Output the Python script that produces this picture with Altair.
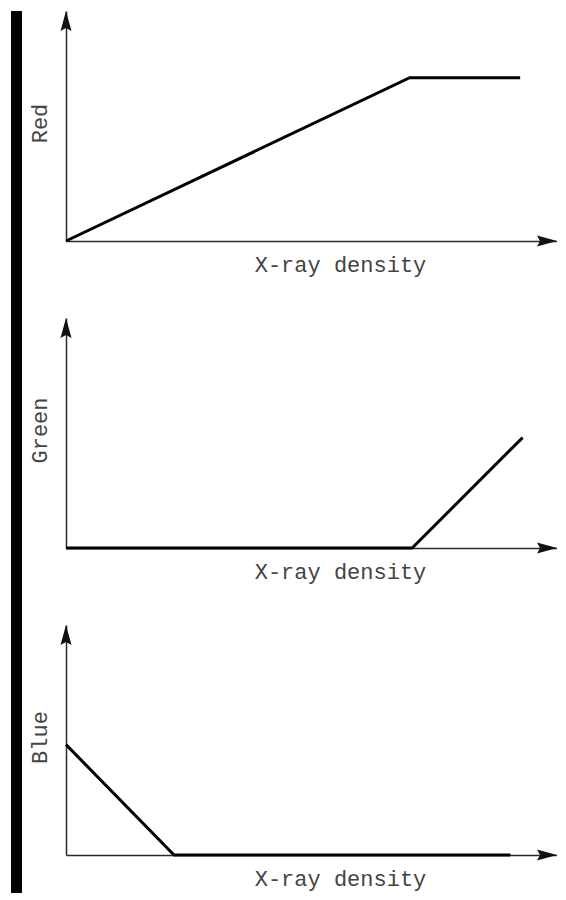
import altair as alt
import pandas as pd

# ---- data ----
x_max = 100
y_max = 100

channels = ["Red", "Green", "Blue"]
x_title = "X-ray density"

red_x = [0, 70, 92.5]
red_y = [0, 71, 71]

green_x = [0, 70.5, 93]
green_y = [0, 0, 48]

blue_x = [0, 22, 90.5]
blue_y = [48, 0, 0]

series = {"Red": (red_x, red_y), "Green": (green_x, green_y), "Blue": (blue_x, blue_y)}

FONT = "Liberation Mono"
W, H = 491, 230
AXIS_COLOR = "#2a2a2a"
TEXT_COLOR = "#444444"

up_arrow = "M0,0 L0.55,2 L0,1.7 L-0.55,2 Z"
right_arrow = "M0,0 L-2,-0.55 L-1.7,0 L-2,0.55 Z"


def panel(name):
    xs, ys = series[name]
    df = pd.DataFrame({"x": xs, "y": ys})
    xscale = alt.Scale(domain=[0, x_max], nice=False, zero=True)
    yscale = alt.Scale(domain=[0, y_max], nice=False, zero=True)
    xaxis = alt.Axis(
        title=x_title, labels=False, ticks=False, grid=False,
        domainColor=AXIS_COLOR, domainWidth=1.5,
        titleFont=FONT, titleFontSize=22, titleFontWeight="normal",
        titleColor=TEXT_COLOR, titleX=274, titleY=30,
        titleBaseline="alphabetic", titleAlign="center",
    )
    yaxis = alt.Axis(
        title=name, labels=False, ticks=False, grid=False,
        domainColor=AXIS_COLOR, domainWidth=1.5,
        titleFont=FONT, titleFontSize=22, titleFontWeight="normal",
        titleColor=TEXT_COLOR, titleX=-20, titleY=H / 2 - 3,
        titleBaseline="alphabetic", titleAlign="center", titleAngle=270,
    )
    line = alt.Chart(df).mark_line(
        color="black", strokeWidth=3, strokeCap="butt", strokeJoin="miter"
    ).encode(
        x=alt.X("x:Q", scale=xscale, axis=xaxis),
        y=alt.Y("y:Q", scale=yscale, axis=yaxis),
    )
    arrows_df = pd.DataFrame({
        "x": [0, x_max],
        "y": [y_max, 0],
        "shape": [up_arrow, right_arrow],
    })
    arrows = alt.Chart(arrows_df).mark_point(
        filled=True, color="#111111", size=400, opacity=1, strokeWidth=0
    ).encode(
        x=alt.X("x:Q", scale=xscale, axis=xaxis),
        y=alt.Y("y:Q", scale=yscale, axis=yaxis),
        shape=alt.Shape("shape:N", scale=None, legend=None),
    )
    return alt.layer(line, arrows).properties(width=W, height=H)


panels = alt.vconcat(*[panel(c) for c in channels], spacing=43)

strip = alt.Chart(pd.DataFrame({"v": [0]})).mark_point(opacity=0).encode(
    x=alt.value(0), y=alt.value(0)
).properties(width=11, height=882, view=alt.ViewBackground(fill="black", strokeWidth=0))

chart = alt.hconcat(strip, panels, spacing=6).properties(
    padding={"left": 0, "top": 0, "right": 0, "bottom": 0},
    background="white",
).configure_view(stroke=None)

chart.save("out.html", embed_options={"renderer": "svg", "actions": False})
